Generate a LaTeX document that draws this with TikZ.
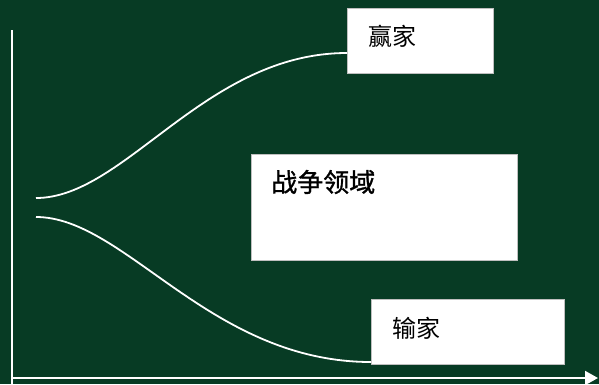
\documentclass[tikz,border=0pt]{standalone}
\usepackage{fontspec}
\newfontfamily\cjk{Noto Sans CJK SC}
\newfontfamily\cjkbold[FakeBold=1.2]{Noto Sans CJK SC}
\usetikzlibrary{arrows.meta,calc}
\definecolor{board}{RGB}{7,59,36}
\begin{document}
\begin{tikzpicture}[x=1pt,y=-1pt,
  box/.style={draw=black!25,line width=0.6pt,fill=white,inner sep=0pt,anchor=north west},
  lbl/.style={font=\cjk\fontsize{24}{28}\selectfont,text=black,inner sep=0pt,anchor=west},
  wline/.style={draw=white,line width=2pt},
  curve/.style={draw=white,line width=1.8pt}]
\fill[board] (0,0) rectangle (599,384);
\useasboundingbox (0,0) rectangle (599,384);
% axes
\coordinate (ytop) at (12,30);
\coordinate (ybot) at (12,384);
\coordinate (xl) at (12,378);
\coordinate (xr) at (598,378);
\draw[wline] (ytop) -- (ybot);
\draw[wline,-{Triangle[length=13pt,width=14pt]}] (xl) -- (xr);
% boxes
\node[box,minimum width=146pt,minimum height=65pt] (win) at (347,8) {};
\node[box,minimum width=266pt,minimum height=106pt] (war) at (251,154) {};
\node[box,minimum width=193pt,minimum height=65pt] (lose) at (371,299) {};
\node[lbl] (wint) at (368,36) {赢家};
\node[lbl,font=\cjkbold\fontsize{26}{28}\selectfont] (wart) at (271,182) {战争领域};
\node[lbl] (loset) at (392,328) {输家};
% curves
\coordinate (s1) at (36,198);
\coordinate (s2) at (36,217);
\coordinate (e1) at ($(win.north west)+(0,45)$);
\coordinate (e2) at ($(lose.north west)+(0,63)$);
\draw[curve] (s1) .. controls (125,198) and (205,53) .. (e1);
\draw[curve] (s2) .. controls (125,217) and (210,362) .. (e2);
\end{tikzpicture}
\end{document}
